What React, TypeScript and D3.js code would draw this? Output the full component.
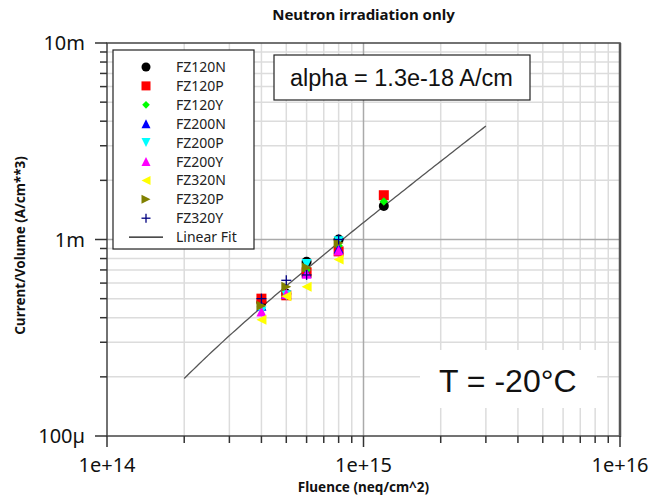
import React from "react";
import * as d3 from "d3";

const W = 654;
const H = 496;

const title = "Neutron irradiation only";
const xTitle = "Fluence (neq/cm^2)";
const yTitle = "Current/Volume (A/cm**3)";
const xTickValues = [1e14, 1e15, 1e16];
const xTickLabels = ["1e+14", "1e+15", "1e+16"];
const yTickValues = [1e-4, 1e-3, 1e-2];
const yTickLabels = ["100\u00b5", "1m", "10m"];

const fluence = [4e14, 5e14, 6e14, 8e14, 1.2e15];

const seriesNames = ["FZ120N", "FZ120P", "FZ120Y", "FZ200N", "FZ200P", "FZ200Y", "FZ320N", "FZ320P", "FZ320Y"];
const seriesColors = ["#000000", "#ff0000", "#00ff00", "#0000ff", "#00ffff", "#ff00ff", "#ffff00", "#808000", "#000080"];
const seriesShapes = ["circle", "square", "diamond", "triUp", "triDown", "triUp", "triLeft", "triRight", "plus"];

const FZ120N = [0.48e-3, 0.53e-3, 0.77e-3, 1.0e-3, 1.48e-3];
const FZ120P = [0.5e-3, 0.52e-3, 0.68e-3, 0.87e-3, 1.68e-3];
const FZ120Y = [0.44e-3, 0.52e-3, 0.7e-3, 0.93e-3, 1.56e-3];
const FZ200N = [0.46e-3, 0.53e-3, 0.675e-3, 0.9e-3];
const FZ200P = [0.43e-3, 0.52e-3, 0.75e-3, 0.98e-3];
const FZ200Y = [0.43e-3, 0.53e-3, 0.67e-3, 0.88e-3];
const FZ320N = [0.39e-3, 0.515e-3, 0.575e-3, 0.79e-3];
const FZ320P = [0.46e-3, 0.575e-3, 0.72e-3, 0.96e-3];
const FZ320Y = [0.5e-3, 0.62e-3, 0.66e-3, 1.0e-3];
const seriesValues = [FZ120N, FZ120P, FZ120Y, FZ200N, FZ200P, FZ200Y, FZ320N, FZ320P, FZ320Y];

// Linear fit  I = slope * fluence + intercept
const fitSlope = 1.28e-18;
const fitIntercept = -6.0e-5;
const fitRange = [2e14, 3e15];

const alphaText = "alpha = 1.3e-18 A/cm";
const tempText = "T = -20\u00b0C";

const M = { left: 107, right: 620, top: 43, bottom: 436 };

function Marker({ shape, color, x, y, s }: { shape: string; color: string; x: number; y: number; s: number }) {
  const h = s / 2;
  switch (shape) {
    case "circle":
      return <circle cx={x} cy={y} r={h} fill={color} />;
    case "square":
      return <rect x={x - h} y={y - h} width={s} height={s} fill={color} />;
    case "diamond":
      return <path d={`M${x},${y - h * 0.85}L${x + h * 0.85},${y}L${x},${y + h * 0.85}L${x - h * 0.85},${y}Z`} fill={color} />;
    case "triUp":
      return <path d={`M${x},${y - h}L${x + h},${y + h}L${x - h},${y + h}Z`} fill={color} />;
    case "triDown":
      return <path d={`M${x},${y + h}L${x + h},${y - h}L${x - h},${y - h}Z`} fill={color} />;
    case "triLeft":
      return <path d={`M${x - h},${y}L${x + h},${y - h}L${x + h},${y + h}Z`} fill={color} />;
    case "triRight":
      return <path d={`M${x + h},${y}L${x - h},${y - h}L${x - h},${y + h}Z`} fill={color} />;
    case "plus":
      return (
        <g stroke={color} strokeWidth={1.3}>
          <line x1={x - h} x2={x + h} y1={y} y2={y} />
          <line x1={x} x2={x} y1={y - h} y2={y + h} />
        </g>
      );
    default:
      return null;
  }
}

export default function App() {
  const x = d3.scaleLog().domain([1e14, 1e16]).range([M.left, M.right]);
  const y = d3.scaleLog().domain([1e-4, 1e-2]).range([M.bottom, M.top]);

  const minorX: number[] = [];
  for (const dec of [1e14, 1e15]) for (let k = 2; k <= 9; k++) minorX.push(dec * k);
  const minorY: number[] = [];
  for (const dec of [1e-4, 1e-3]) for (let k = 2; k <= 9; k++) minorY.push(dec * k);

  const fitPts = d3.range(0, 101).map((i) => {
    const lf = Math.log10(fitRange[0]) + (Math.log10(fitRange[1]) - Math.log10(fitRange[0])) * (i / 100);
    const f = Math.pow(10, lf);
    return [f, fitSlope * f + fitIntercept] as [number, number];
  });
  const line = d3
    .line<[number, number]>()
    .x((d) => x(d[0]))
    .y((d) => y(d[1]));

  const font = "'Noto Sans', 'DejaVu Sans', sans-serif";
  const arial = "'Liberation Sans', Arial, sans-serif";

  const legX = 113, legY = 50, legW = 141, legH = 199;
  const rowY0 = 67, rowDy = 18.9;

  return (
    <svg width={W} height={H} style={{ position: "absolute", left: 0, top: 0, background: "#fff" }}>
      <rect width={W} height={H} fill="#fff" />
      {/* grid */}
      {minorX.map((v) => (
        <line key={"gx" + v} x1={x(v)} x2={x(v)} y1={M.top} y2={M.bottom} stroke="#dcdcdc" strokeWidth={1.5} />
      ))}
      {minorY.map((v) => (
        <line key={"gy" + v} x1={M.left} x2={M.right} y1={y(v)} y2={y(v)} stroke="#dcdcdc" strokeWidth={1.5} />
      ))}
      <line x1={x(1e15)} x2={x(1e15)} y1={M.top} y2={M.bottom} stroke="#aaaaaa" strokeWidth={1.5} />
      <line x1={M.left} x2={M.right} y1={y(1e-3)} y2={y(1e-3)} stroke="#aaaaaa" strokeWidth={1.5} />

      {/* fit line */}
      <path d={line(fitPts) || ""} fill="none" stroke="#555" strokeWidth={1.3} />

      {/* data */}
      {seriesValues.map((vals, si) =>
        vals.map((v, i) => (
          <Marker key={si + "-" + i} shape={seriesShapes[si]} color={seriesColors[si]} x={x(fluence[i])} y={y(v)} s={10} />
        ))
      )}

      {/* frame */}
      <rect x={M.left} y={M.top} width={M.right - M.left} height={M.bottom - M.top} fill="none" stroke="#444" strokeWidth={1.5} />
      <line x1={M.right} x2={M.right} y1={M.top} y2={M.bottom + 1} stroke="#555" strokeWidth={2.5} />

      {/* x ticks */}
      {minorX.map((v) => (
        <line key={"tx" + v} x1={x(v)} x2={x(v)} y1={M.bottom} y2={M.bottom + 7} stroke="#333" strokeWidth={1.5} />
      ))}
      {xTickValues.map((v, i) => (
        <g key={"xt" + v}>
          <line x1={x(v)} x2={x(v)} y1={M.bottom} y2={M.bottom + 11} stroke="#333" strokeWidth={1.5} />
          <text x={x(v)} y={M.bottom + 36} textAnchor="middle" fontFamily={font} fontSize={20} fill="#111">
            {xTickLabels[i]}
          </text>
        </g>
      ))}
      {/* y ticks */}
      {minorY.map((v) => (
        <line key={"ty" + v} x1={M.left - 7} x2={M.left} y1={y(v)} y2={y(v)} stroke="#333" strokeWidth={1.5} />
      ))}
      {yTickValues.map((v, i) => (
        <g key={"yt" + v}>
          <line x1={M.left - 12} x2={M.left} y1={y(v)} y2={y(v)} stroke="#333" strokeWidth={1.5} />
          <text x={M.left - 22} y={y(v) + 7} textAnchor="end" fontFamily={font} fontSize={20} fill="#111">
            {yTickLabels[i]}
          </text>
        </g>
      ))}

      {/* titles */}
      <text x={(M.left + M.right) / 2} y={20} textAnchor="middle" fontFamily={font} fontWeight="bold" fontSize={15} fill="#111">
        {title}
      </text>
      <text x={(M.left + M.right) / 2} y={492} textAnchor="middle" fontFamily={font} fontWeight="bold" fontSize={13.5} fill="#111">
        {xTitle}
      </text>
      <text transform={`translate(25,${(M.top + M.bottom) / 2 + 6}) rotate(-90)`} textAnchor="middle" fontFamily={font} fontWeight="bold" fontSize={13.5} fill="#111">
        {yTitle}
      </text>

      {/* legend */}
      <rect x={legX} y={legY} width={legW} height={legH} fill="#fff" stroke="#222" strokeWidth={1.2} />
      {seriesNames.map((n, i) => (
        <g key={n}>
          <Marker shape={seriesShapes[i]} color={seriesColors[i]} x={146} y={rowY0 + i * rowDy} s={9} />
          <text x={176} y={rowY0 + i * rowDy + 5} fontFamily={font} fontSize={14} fill="#222">
            {n}
          </text>
        </g>
      ))}
      <line x1={129} x2={163} y1={rowY0 + 9 * rowDy} y2={rowY0 + 9 * rowDy} stroke="#111" strokeWidth={1.3} />
      <text x={176} y={rowY0 + 9 * rowDy + 5} fontFamily={font} fontSize={14} fill="#222">
        Linear Fit
      </text>

      {/* alpha box */}
      <rect x={274} y={55} width={256} height={45} fill="#fff" stroke="#222" strokeWidth={1.2} />
      <text x={290} y={86} fontFamily={arial} fontSize={23.5} fill="#111">
        {alphaText}
      </text>

      {/* temperature box */}
      <rect x={420} y={350} width={177} height={58} fill="#fff" />
      <text x={439} y={392} fontFamily={arial} fontSize={32} fill="#111">
        {tempText}
      </text>
    </svg>
  );
}
